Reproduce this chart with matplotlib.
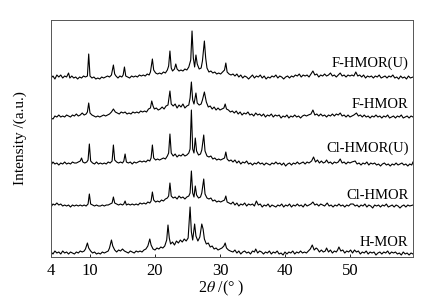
import matplotlib
matplotlib.use("Agg")
import matplotlib.pyplot as plt

plt.rcParams['font.family'] = ['Liberation Serif', 'DejaVu Serif']
plt.rcParams['mathtext.fontset'] = 'stix'

# ---- data: (2theta in deg, intensity in a.u. relative to each trace's own baseline)
h_mor = [(4.0,2),(4.3,0),(4.6,3),(4.9,1),(5.2,2),(5.5,0),(5.8,3),(6.1,1),(6.4,2),(6.7,0),(7.0,2),(7.3,1),(7.6,0),(7.9,2),(8.2,1),(8.5,3),(8.8,2),(9.1,3),(9.3,5),(9.6,11),(9.8,6),(10.1,3),(10.4,1),(10.7,2),(11.0,0),(11.3,1),(11.6,0),(11.9,2),(12.2,1),(12.5,2),(12.8,3),(13.0,6),(13.3,14),(13.5,8),(13.8,4),(14.1,2),(14.4,4),(14.7,3),(15.0,5),(15.3,3),(15.6,2),(15.9,1),(16.2,3),(16.5,2),(16.8,1),(17.1,3),(17.4,2),(17.7,3),(18.0,2),(18.3,4),(18.6,5),(18.9,8),(19.2,15),(19.4,9),(19.7,5),(20.0,4),(20.3,6),(20.6,5),(20.9,7),(21.2,6),(21.5,8),(21.8,14),(22.0,29),(22.2,16),(22.4,10),(22.7,12),(23.0,9),(23.3,13),(23.6,11),(23.9,14),(24.2,12),(24.5,15),(24.8,13),(25.1,16),(25.4,47),(25.6,22),(25.8,14),(26.1,30),(26.3,18),(26.6,13),(26.9,17),(27.2,30),(27.4,25),(27.6,15),(27.9,10),(28.2,11),(28.5,7),(28.8,8),(29.1,5),(29.4,6),(29.7,4),(30.0,5),(30.3,6),(30.6,8),(30.8,11),(31.0,6),(31.3,4),(31.6,3),
         (32.0,2),(32.3,4),(32.6,1),(32.9,3),(33.2,0),(33.5,2),(33.8,3),(34.1,1),(34.4,2),(34.7,0),(35.0,3),(35.3,2),(35.5,5),(35.8,1),(36.1,3),(36.4,2),(36.7,0),(37.0,2),(37.3,1),(37.6,3),(37.9,0),(38.2,2),(38.5,1),(38.8,3),(39.1,0),(39.4,1),(39.7,-1),(40.0,2),(40.3,0),(40.6,2),(40.9,1),(41.2,3),(41.5,0),(41.8,2),(42.1,1),(42.4,3),(42.7,1),(43.0,2),(43.3,1),(43.6,3),(43.9,5),(44.2,9),(44.5,4),(44.8,6),(45.0,5),(45.3,2),(45.6,4),(45.9,2),(46.2,3),(46.4,6),(46.7,2),(47.0,4),(47.3,1),(47.6,3),(47.9,2),(48.1,4),(48.3,7),(48.6,3),(48.9,4),(49.2,1),(49.5,3),(49.8,2),(50.1,4),(50.4,1),(50.7,4),(51.0,2),(51.3,3),(51.6,0),(51.9,2),(52.2,1),(52.5,3),(52.8,0),(53.1,2),(53.4,1),(53.7,2),(54.0,-1),(54.3,1),(54.6,2),(54.9,0),(55.2,2),(55.5,1),(55.8,3),(56.1,0),(56.4,2),(56.7,1),(57.0,2),(57.3,0),(57.6,1),(57.9,-1),(58.2,2),(58.5,0),(58.8,1),(59.1,-1),(59.4,1),(59.7,0)]

cl_hmor = [(4.0,0),(4.3,3),(4.6,2),(4.9,4),(5.2,2),(5.5,3),(5.8,1),(6.1,2),(6.4,1),(6.7,2),(7.0,0),(7.3,2),(7.6,1),(7.9,2),(8.2,1),(8.5,2),(8.8,1),(9.1,2),(9.4,1),(9.7,3),(9.9,13),(10.1,3),(10.4,2),(10.7,1),(11.0,2),(11.3,1),(11.6,1),(11.9,2),(12.2,1),(12.5,2),(12.8,2),(13.1,3),(13.4,4),(13.6,10),(13.8,4),(14.1,3),(14.4,2),(14.7,3),(15.0,2),(15.2,3),(15.4,6),(15.6,2),(15.9,3),(16.2,2),(16.5,3),(16.8,2),(17.1,3),(17.4,2),(17.7,4),(18.0,3),(18.3,4),(18.6,3),(18.9,5),(19.2,4),(19.4,6),(19.6,15),(19.8,7),(20.1,5),(20.4,6),(20.7,5),(21.0,7),(21.3,6),(21.6,8),(21.9,9),(22.1,11),(22.3,24),(22.5,11),(22.8,9),(23.1,10),(23.4,8),(23.7,11),(24.0,9),(24.3,10),(24.6,8),(24.9,10),(25.2,11),(25.4,14),(25.6,36),(25.8,14),(26.0,10),(26.2,21),(26.4,12),(26.7,9),(27.0,10),(27.2,14),(27.5,28),(27.7,13),(28.0,9),(28.3,8),(28.6,9),(28.9,6),(29.2,7),(29.5,5),(29.8,6),(30.1,5),(30.4,6),(30.7,7),(30.9,11),(31.1,5),(31.4,4),
           (31.7,3),(32.0,5),(32.3,2),(32.6,4),(32.9,1),(33.2,3),(33.5,2),(33.8,4),(34.1,1),(34.4,3),(34.7,2),(35.0,3),(35.3,1),(35.6,6),(35.9,2),(36.2,3),(36.5,0),(36.8,2),(37.1,1),(37.4,3),(37.7,0),(38.0,2),(38.3,1),(38.6,0),(38.9,2),(39.2,1),(39.5,3),(39.8,0),(40.1,2),(40.4,1),(40.7,3),(41.0,0),(41.3,2),(41.6,1),(41.9,3),(42.2,1),(42.5,2),(42.8,0),(43.1,3),(43.4,1),(43.7,2),(44.0,3),(44.3,5),(44.6,2),(44.9,3),(45.2,1),(45.5,3),(45.8,2),(46.1,1),(46.5,4),(46.8,1),(47.1,2),(47.4,0),(47.7,2),(48.0,1),(48.3,3),(48.6,1),(48.9,2),(49.2,0),(49.5,2),(49.8,1),(50.1,3),(50.5,3),(50.8,1),(51.1,2),(51.4,0),(51.7,2),(52.0,1),(52.3,3),(52.6,0),(52.9,2),(53.2,1),(53.5,-1),(53.8,2),(54.1,1),(54.4,2),(54.7,0),(55.0,2),(55.3,1),(55.6,3),(55.9,0),(56.2,1),(56.5,2),(56.8,0),(57.1,2),(57.4,1),(57.7,-1),(58.0,1),(58.3,2),(58.6,0),(58.9,2),(59.2,1),(59.7,2)]

cl_hmor_u = [(4.0,0),(4.3,3),(4.6,1),(4.9,2),(5.2,0),(5.5,2),(5.8,1),(6.1,3),(6.4,1),(6.7,2),(7.0,1),(7.3,3),(7.6,2),(7.9,2),(8.2,3),(8.5,4),(8.7,7),(8.9,3),(9.2,2),(9.5,3),(9.7,5),(9.9,21),(10.1,4),(10.4,2),(10.7,1),(11.0,3),(11.3,1),(11.6,2),(11.9,1),(12.2,2),(12.5,1),(12.8,3),(13.1,2),(13.4,4),(13.6,20),(13.8,5),(14.1,3),(14.4,2),(14.7,3),(15.0,2),(15.2,4),(15.4,11),(15.6,3),(15.9,2),(16.2,3),(16.5,1),(16.8,3),(17.1,2),(17.4,3),(17.7,4),(18.0,3),(18.3,4),(18.6,3),(18.9,5),(19.2,4),(19.4,7),(19.6,20),(19.8,7),(20.1,5),(20.4,6),(20.7,5),(21.0,6),(21.3,7),(21.6,6),(21.9,9),(22.1,12),(22.3,31),(22.5,12),(22.8,9),(23.1,11),(23.4,8),(23.7,10),(24.0,9),(24.3,11),(24.6,9),(24.9,10),(25.2,12),(25.4,16),(25.6,55),(25.8,16),(26.0,12),(26.2,27),(26.4,14),(26.7,10),(27.0,11),(27.2,15),(27.5,30),(27.7,14),(28.0,9),(28.3,8),(28.6,9),(28.9,6),(29.2,7),(29.5,5),(29.8,6),(30.1,5),(30.4,6),(30.7,7),(30.9,13),(31.1,6),(31.4,4),(31.7,5),
             (32.0,3),(32.3,5),(32.6,2),(32.9,4),(33.2,1),(33.5,3),(33.8,2),(34.1,4),(34.4,1),(34.7,2),(35.0,0),(35.3,2),(35.6,1),(35.9,3),(36.2,1),(36.5,2),(36.8,0),(37.1,2),(37.4,1),(37.7,0),(38.0,2),(38.3,1),(38.6,3),(38.9,1),(39.2,2),(39.5,0),(39.8,2),(40.1,-1),(40.4,1),(40.7,2),(41.0,0),(41.3,2),(41.6,1),(41.9,3),(42.2,1),(42.5,2),(42.8,3),(43.1,1),(43.4,3),(43.7,2),(44.1,4),(44.4,8),(44.7,3),(45.0,5),(45.3,2),(45.6,4),(45.9,2),(46.2,3),(46.4,5),(46.7,2),(47.0,3),(47.3,1),(47.6,3),(47.9,2),(48.2,3),(48.5,6),(48.8,2),(49.1,3),(49.4,1),(49.7,3),(50.0,2),(50.3,3),(50.8,4),(51.1,1),(51.4,2),(51.7,0),(52.0,2),(52.3,1),(52.6,3),(52.9,0),(53.2,2),(53.5,1),(53.8,2),(54.1,0),(54.4,1),(54.7,-1),(55.0,1),(55.3,2),(55.6,0),(55.9,1),(56.2,-1),(56.5,1),(56.8,0),(57.1,2),(57.4,0),(57.7,1),(58.0,2),(58.3,0),(58.6,1),(58.9,-1),(59.2,1),(59.5,0),(59.7,3)]

f_hmor = [(4.0,0),(4.3,-1),(4.6,2),(4.9,1),(5.2,3),(5.5,1),(5.8,2),(6.1,1),(6.4,3),(6.7,2),(7.0,1),(7.3,3),(7.6,2),(7.9,4),(8.2,2),(8.5,3),(8.8,5),(9.1,3),(9.4,4),(9.6,6),(9.8,15),(10.0,5),(10.3,3),(10.6,2),(10.9,1),(11.2,2),(11.5,1),(11.8,2),(12.1,3),(12.4,2),(12.7,3),(13.0,4),(13.3,6),(13.6,9),(13.9,6),(14.2,5),(14.5,4),(14.8,6),(15.1,5),(15.4,6),(15.7,4),(16.0,5),(16.3,4),(16.6,6),(16.9,5),(17.2,6),(17.5,5),(17.8,7),(18.1,6),(18.4,7),(18.7,6),(19.0,9),(19.3,10),(19.5,17),(19.7,12),(19.9,9),(20.2,10),(20.5,8),(20.8,9),(21.1,11),(21.4,9),(21.7,12),(22.0,13),(22.3,27),(22.5,14),(22.8,12),(23.1,14),(23.4,10),(23.7,13),(24.0,11),(24.3,14),(24.6,10),(24.9,12),(25.2,13),(25.4,20),(25.6,36),(25.8,18),(26.0,14),(26.3,25),(26.5,15),(26.8,13),(27.1,14),(27.3,18),(27.6,26),(27.9,16),(28.2,11),(28.5,12),(28.8,9),(29.1,11),(29.4,8),(29.7,10),(30.0,8),(30.3,9),(30.6,10),(30.8,14),(31.0,9),(31.3,8),(31.6,6),(31.9,7),
          (32.2,5),(32.5,7),(32.8,4),(33.1,6),(33.4,3),(33.7,5),(34.0,4),(34.3,6),(34.6,3),(34.9,4),(35.2,2),(35.5,5),(35.8,3),(36.1,4),(36.4,2),(36.7,4),(37.0,1),(37.3,3),(37.6,2),(37.9,4),(38.2,1),(38.5,3),(38.8,2),(39.1,3),(39.4,0),(39.7,2),(40.0,1),(40.3,3),(40.6,0),(40.9,2),(41.2,1),(41.5,3),(41.8,1),(42.1,2),(42.4,0),(42.7,2),(43.0,3),(43.3,2),(43.6,3),(44.0,4),(44.3,8),(44.6,3),(44.9,4),(45.2,2),(45.5,4),(45.8,2),(46.1,3),(46.4,1),(46.7,3),(47.0,2),(47.3,4),(47.6,2),(47.9,4),(48.2,3),(48.5,5),(48.8,2),(49.1,3),(49.4,1),(49.7,3),(50.0,1),(50.3,2),(50.6,3),(51.0,5),(51.3,2),(51.6,3),(51.9,1),(52.2,3),(52.5,1),(52.8,2),(53.1,0),(53.4,2),(53.7,1),(54.0,3),(54.3,1),(54.6,2),(54.9,0),(55.2,2),(55.5,1),(55.8,3),(56.1,0),(56.4,1),(56.7,2),(57.0,0),(57.3,2),(57.6,1),(57.9,3),(58.2,0),(58.5,1),(58.8,2),(59.1,0),(59.4,2),(59.7,1)]

f_hmor_u = [(4.0,0),(4.3,2),(4.6,-1),(4.9,3),(5.2,1),(5.5,3),(5.8,0),(6.1,2),(6.4,1),(6.7,5),(6.9,0),(7.2,2),(7.5,0),(7.8,1),(8.1,-1),(8.4,1),(8.7,0),(9.0,2),(9.3,1),(9.6,2),(9.8,24),(10.0,2),(10.3,0),(10.6,1),(10.9,-1),(11.2,0),(11.5,-1),(11.8,1),(12.1,0),(12.4,1),(12.7,2),(13.0,1),(13.3,3),(13.6,13),(13.8,4),(14.0,2),(14.3,0),(14.6,2),(14.9,1),(15.1,3),(15.3,11),(15.5,2),(15.8,1),(16.1,0),(16.4,2),(16.7,1),(17.0,2),(17.3,1),(17.6,3),(17.9,2),(18.2,3),(18.5,2),(18.8,4),(19.1,3),(19.3,6),(19.6,19),(19.8,8),(20.1,5),(20.4,4),(20.7,5),(21.0,4),(21.3,6),(21.6,5),(21.9,8),(22.1,12),(22.3,27),(22.5,10),(22.7,7),(23.0,9),(23.2,14),(23.4,9),(23.7,7),(24.0,8),(24.3,7),(24.6,9),(24.9,8),(25.2,11),(25.5,18),(25.7,47),(25.9,20),(26.1,11),(26.3,23),(26.5,14),(26.8,9),(27.1,10),(27.3,17),(27.6,37),(27.8,20),(28.0,10),(28.3,6),(28.6,7),(28.9,5),(29.2,6),(29.5,4),(29.8,5),(30.1,4),(30.4,6),(30.7,8),(30.9,15),(31.1,6),(31.4,4),(31.7,3),(32.0,4),
            (32.3,2),(32.6,4),(32.9,1),(33.2,3),(33.5,0),(33.8,2),(34.1,1),(34.4,-1),(34.7,1),(35.0,3),(35.3,0),(35.6,2),(35.9,1),(36.2,3),(36.5,0),(36.8,2),(37.1,-1),(37.4,1),(37.7,0),(38.0,2),(38.3,1),(38.6,3),(38.9,0),(39.2,2),(39.5,1),(39.8,-1),(40.1,1),(40.4,2),(40.7,0),(41.0,2),(41.3,1),(41.6,3),(41.9,2),(42.2,4),(42.5,1),(42.8,3),(43.1,2),(43.4,3),(43.7,1),(44.0,4),(44.3,7),(44.6,3),(44.9,4),(45.2,1),(45.5,3),(45.8,2),(46.1,4),(46.4,2),(46.7,3),(47.0,5),(47.3,2),(47.6,3),(47.9,1),(48.2,3),(48.5,5),(48.8,2),(49.1,3),(49.4,1),(49.7,3),(50.0,2),(50.3,3),(50.6,2),(50.9,6),(51.2,2),(51.5,3),(51.8,1),(52.1,3),(52.4,0),(52.7,2),(53.0,1),(53.3,2),(53.6,0),(53.9,2),(54.2,1),(54.5,3),(54.8,0),(55.1,1),(55.4,2),(55.7,0),(56.0,2),(56.3,1),(56.6,3),(56.9,0),(57.2,1),(57.5,-1),(57.8,2),(58.1,0),(58.4,1),(58.7,-1),(59.0,2),(59.3,0),(59.7,1)]

series = [h_mor, cl_hmor, cl_hmor_u, f_hmor, f_hmor_u]
labels = ['H-MOR', 'Cl-HMOR', 'Cl-HMOR(U)', 'F-HMOR', 'F-HMOR(U)']
offsets = [3, 50, 92, 139, 179]
label_heights = [15, 62, 109, 153, 194]

xticks = [4, 10, 20, 30, 40, 50]

fig = plt.figure(figsize=(4.33, 3.00), dpi=100)
ax = fig.add_axes([0.1178, 0.1433, 0.836, 0.79])

for data, off, lab, lh in zip(series, offsets, labels, label_heights):
    xs = [p[0] for p in data]
    ys = [p[1] + off for p in data]
    ax.plot(xs, ys, color='black', lw=0.8)
    ax.text(59.0, lh, lab, ha='right', va='center', fontsize=10.5)

ax.set_xlim(4, 59.7)
ax.set_ylim(0, 237)
ax.set_xticks(xticks)
ax.set_xticklabels([str(t) for t in xticks], fontsize=12)
ax.set_yticks([])
ax.tick_params(axis='x', direction='in', length=2, width=0.6, pad=4)
for s in ax.spines.values():
    s.set_linewidth(0.7)
    s.set_color('#555555')
ax.set_ylabel('Intensity /(a.u.)', fontsize=11)
ax.yaxis.set_label_coords(-0.065, 0.5)
ax.set_xlabel(r'2$\theta$ /(° )', fontsize=11.5)
ax.xaxis.set_label_coords(0.47, -0.09)

fig.savefig('out.png', dpi=100)
